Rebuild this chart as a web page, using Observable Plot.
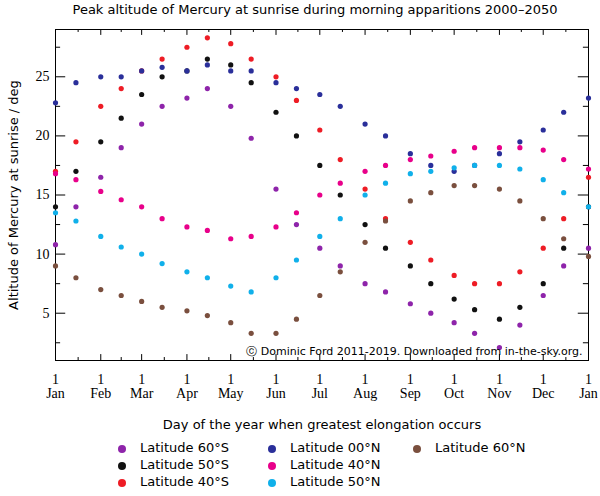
<!DOCTYPE html>
<html><head><meta charset="utf-8">
<script src="https://cdn.jsdelivr.net/npm/d3@7"></script>
<script src="https://cdn.jsdelivr.net/npm/@observablehq/plot@0.6"></script>
<style>
body{margin:0;background:#fff;font-family:"DejaVu Sans",sans-serif;}
#title{height:20px;line-height:20px;text-align:center;font-size:13px;padding-left:30px;}
#legend{display:grid;grid-auto-flow:column;grid-template-rows:repeat(3,17px);grid-template-columns:150px 145px 150px;margin-left:118px;margin-top:5px;font-size:13px;}
#legend span{display:inline-block;width:8px;height:8px;border-radius:50%;margin-right:14px;vertical-align:middle;}
</style></head><body>
<div id="title">Peak altitude of Mercury at sunrise during morning apparitions 2000–2050</div>
<div id="chart"></div>
<div id="legend"></div>
<script>
// half-month sample days (day of year)
const days = [0,14,31,45,59,73,90,104,120,134,151,165,181,195,212,226,243,257,273,287,304,318,334,348,365];
const seriesNames = ["Latitude 60°S","Latitude 50°S","Latitude 40°S","Latitude 00°N","Latitude 40°N","Latitude 50°N","Latitude 60°N"];
const colors = ["#8e24aa","#111111","#ee1c25","#2a2f9a","#e8008a","#10b0ea","#7a4f3e"];
const lat60S = [10.8,14,16.5,19,21,22.5,23.2,24,22.5,19.8,15.5,12.5,10.5,9,7.5,6.8,5.8,5,4.2,3.3,2.1,4,6.5,9,10.5];
const lat50S = [14,17,19.5,21.5,23.5,25,25.5,26.5,26,24.5,22,20,17.5,15,12.5,10.5,9,7.5,6.2,5.3,4.5,5.5,7.5,10.5,14];
const lat40S = [17,19.5,22.5,24,25.5,26.5,27.5,28.3,27.8,26.5,25,23,20.5,18,15.5,13,11,9.5,8.2,7.5,7.5,8.5,10.5,13,16.5];
const lat00N = [22.8,24.5,25,25,25.5,25.8,25.5,26,25.5,25.5,24.5,24,23.5,22.5,21,20,18.5,17.5,17,17.5,18.5,19.5,20.5,22,23.2];
const lat40N = [16.8,16.3,15.3,14.6,14,13,12.3,12,11.3,11.5,12.3,13.5,15,16,17,17.5,18,18.3,18.7,19,19,19,18.8,18,17.2];
const lat50N = [13.5,12.8,11.5,10.6,10,9.2,8.5,8,7.3,6.8,8,9.5,11.5,13,15,16,16.8,17,17.3,17.5,17.5,17.2,16.3,15.2,14];
const lat60N = [9,8,7,6.5,6,5.5,5.2,4.8,4.2,3.3,3.3,4.5,6.5,8.5,11,12.8,14.5,15.2,15.8,15.8,15.5,14.5,13,11.3,9.8];
const monthDays = [0,31,59,90,120,151,181,212,243,273,304,334,365];
const monthLabels = ["Jan","Feb","Mar","Apr","May","Jun","Jul","Aug","Sep","Oct","Nov","Dec","Jan"];
const yTicks = [5,10,15,20,25];

const all = [lat60S,lat50S,lat40S,lat00N,lat40N,lat50N,lat60N];
const data = [];
all.forEach((s,i)=>s.forEach((v,j)=>data.push({day:days[j],alt:v,series:seriesNames[i]})));
const minorX = monthDays.slice(0,-1).map((d,i)=>(d+monthDays[i+1])/2);
const minorY = [2.5,7.5,12.5,17.5,22.5,27.5];

const plot = Plot.plot({
  width:600,height:415,marginLeft:55,marginRight:12,marginTop:9,marginBottom:75,
  style:{fontFamily:"Liberation Serif, serif",fontSize:"14px",color:"#000",overflow:"visible"},
  x:{domain:[0,365]},
  y:{domain:[1,29]},
  color:{domain:seriesNames,range:colors},
  marks:[
    Plot.frame({stroke:"#000"}),
    Plot.axisX({ticks:monthDays,tickFormat:(d,i)=>"1\n"+monthLabels[i],tickSize:0,tickPadding:14,fontSize:14,label:null}),
    Plot.axisY({ticks:yTicks,tickSize:0,tickPadding:6,fontSize:14,label:null}),
    Plot.ruleX(monthDays,{y1:1,y2:1.5}),
    Plot.ruleX(monthDays,{y1:28.5,y2:29}),
    Plot.ruleX(minorX,{y1:1,y2:1.25}),
    Plot.ruleX(minorX,{y1:28.75,y2:29}),
    Plot.ruleY(yTicks,{x1:0,x2:7}),
    Plot.ruleY(yTicks,{x1:358,x2:365}),
    Plot.ruleY(minorY,{x1:0,x2:3.5}),
    Plot.ruleY(minorY,{x1:361.5,x2:365}),
    Plot.dot(data,{x:"day",y:"alt",fill:"series",r:2.6}),
    Plot.text(["ⓒ Dominic Ford 2011-2019. Downloaded from in-the-sky.org."],{frameAnchor:"bottom-right",dx:-6,dy:-6,fontSize:11,fontFamily:"DejaVu Sans, sans-serif"}),
    Plot.text(["Day of the year when greatest elongation occurs"],{frameAnchor:"bottom",dy:68,fontSize:13,fontFamily:"DejaVu Sans, sans-serif"}),
    Plot.text(["Altitude of Mercury at sunrise / deg"],{frameAnchor:"left",textAnchor:"middle",dx:-42,rotate:-90,fontSize:13,fontFamily:"DejaVu Sans, sans-serif"})
  ]
});
document.getElementById("chart").append(plot);
const leg=document.getElementById("legend");
seriesNames.forEach((n,i)=>{const d=document.createElement("div");d.innerHTML=`<span style="background:${colors[i]}"></span>${n}`;leg.append(d);});
</script></body></html>
